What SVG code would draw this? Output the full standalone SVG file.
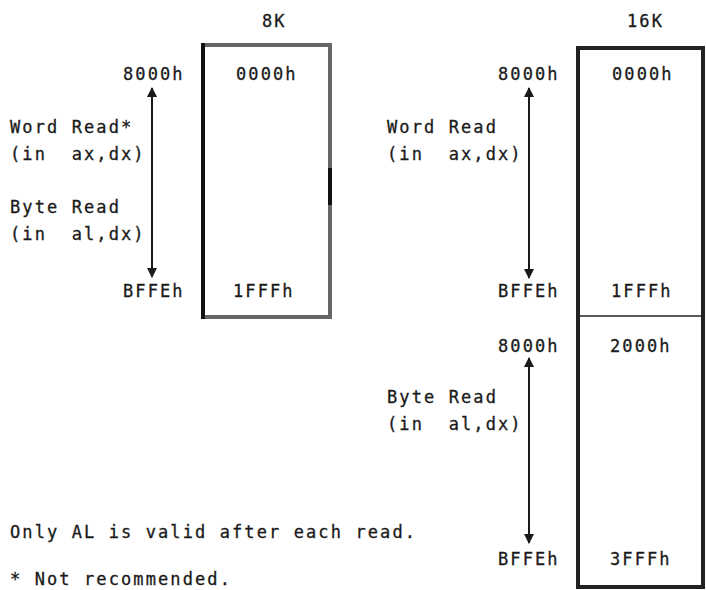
<svg xmlns="http://www.w3.org/2000/svg" width="706" height="590" viewBox="0 0 706 590">
<style>
text{font-family:"DejaVu Sans Mono","Liberation Mono",monospace;font-size:17px;letter-spacing:2.1px;fill:#1a1a1a;stroke:#1a1a1a;stroke-width:0.3}
.box{fill:none;stroke:#222;stroke-width:4}
.arr{stroke:#1a1a1a;stroke-width:2;fill:none;marker-start:url(#ah);marker-end:url(#ah)}
</style>
<defs>
<marker id="ah" viewBox="0 0 10 10" refX="9" refY="5" markerWidth="5" markerHeight="5" orient="auto-start-reverse" markerUnits="strokeWidth">
<path d="M0,0 L10,5 L0,10 z" fill="#1a1a1a"/>
</marker>
</defs>
<rect width="706" height="590" fill="#fff"/>
<g id="mem8k">
<rect class="box" x="203" y="45" width="127" height="272" style="stroke:#666"/>
<line x1="203" y1="43" x2="203" y2="319" stroke="#111" stroke-width="4"/>
<line x1="330" y1="168" x2="330" y2="205" stroke="#111" stroke-width="4"/>
<text x="262" y="27">8K</text>
<text x="123" y="80">8000h</text>
<text x="236" y="80">0000h</text>
<text x="123" y="297">BFFEh</text>
<text x="233" y="297">1FFFh</text>
<text x="10" y="133">Word Read*</text>
<text x="10" y="160" xml:space="preserve">(in  ax,dx)</text>
<text x="10" y="213">Byte Read</text>
<text x="10" y="240" xml:space="preserve">(in  al,dx)</text>
</g>
<g id="mem16k">
<rect class="box" x="578" y="48" width="125" height="539"/>
<line x1="578" y1="316" x2="703" y2="316" stroke="#222" stroke-width="1.5"/>
<text x="627" y="27">16K</text>
<text x="498" y="80">8000h</text>
<text x="612" y="80">0000h</text>
<text x="498" y="297">BFFEh</text>
<text x="611" y="297">1FFFh</text>
<text x="387" y="133">Word Read</text>
<text x="387" y="160" xml:space="preserve">(in  ax,dx)</text>
<text x="498" y="352">8000h</text>
<text x="610" y="352">2000h</text>
<text x="498" y="565">BFFEh</text>
<text x="610" y="565">3FFFh</text>
<text x="387" y="403">Byte Read</text>
<text x="387" y="430" xml:space="preserve">(in  al,dx)</text>
</g>
<g id="connectors">
<line class="arr" x1="152" y1="88" x2="152" y2="277"/>
<line class="arr" x1="529" y1="88" x2="529" y2="278"/>
<line class="arr" x1="529" y1="358" x2="529" y2="543"/>
</g>
<g id="notes">
<text x="10" y="538">Only AL is valid after each read.</text>
<text x="10" y="585">* Not recommended.</text>
</g>
</svg>
